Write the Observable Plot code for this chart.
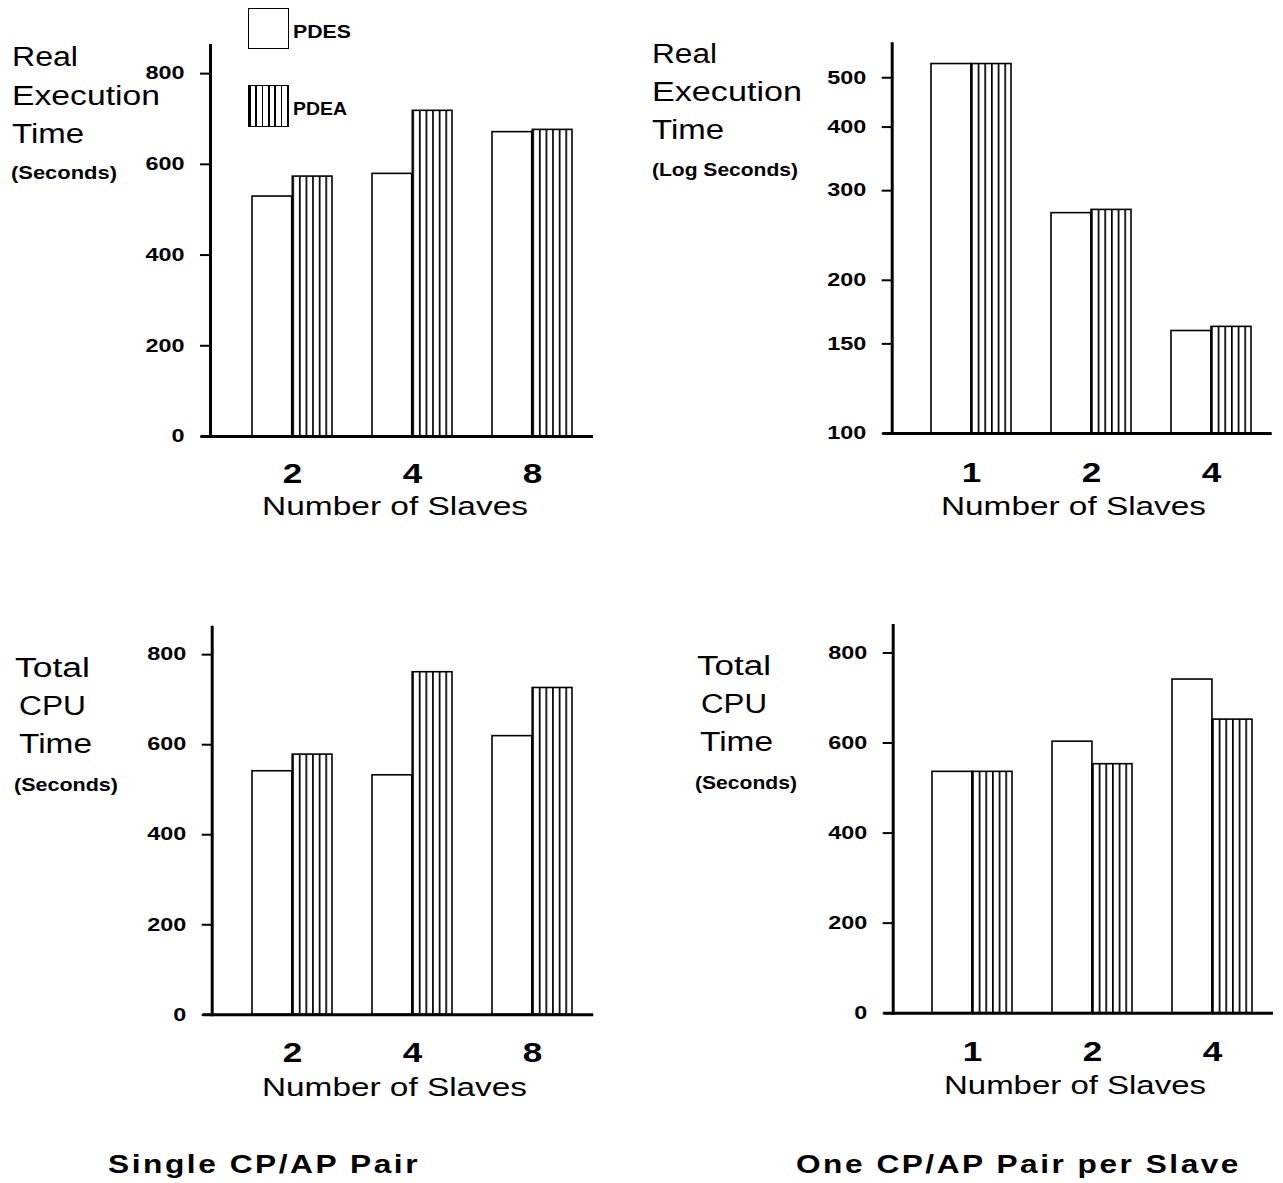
<!DOCTYPE html>
<html><head><meta charset="utf-8">
<script src="https://cdn.jsdelivr.net/npm/d3@7"></script>
<script src="https://cdn.jsdelivr.net/npm/@observablehq/plot@0.6"></script>
<style>
body{margin:0;background:#fff;}
#root{position:relative;width:1283px;height:1183px;overflow:hidden;background:#fff;font-family:"Liberation Sans",Arial,sans-serif;color:#000;}
.lbl{position:absolute;white-space:nowrap;line-height:1;transform-origin:0 0;}
.plot{position:absolute;}
.sw{position:absolute;box-sizing:border-box;border:1.6px solid #000;background:#fff;}
</style></head><body>
<svg width="0" height="0" style="position:absolute">
  <defs>
    <pattern id="vhatch" patternUnits="objectBoundingBox" x="0" y="0" width="0.166667" height="1">
      <rect x="0" y="0" width="100" height="3000" fill="#fff"/>
      <rect x="0" y="0" width="1.7" height="3000" fill="#000"/>
    </pattern>
  </defs>
</svg>
<div id="root"></div>
<script>
// ---- data ----
const series = ["PDES", "PDEA"];
const slavesSingle = ["2", "4", "8"];
const slavesPerSlave = ["1", "2", "4"];
const realSinglePDES = [529, 579, 671];
const realSinglePDEA = [573, 718, 676];
const realPerSlavePDES = [532, 271, 159];
const realPerSlavePDEA = [532, 275, 162];
const cpuSinglePDES = [541, 532, 619];
const cpuSinglePDEA = [578, 761, 726];
const cpuPerSlavePDES = [536, 603, 741];
const cpuPerSlavePDEA = [536, 553, 652];
const linearTicks = [0, 200, 400, 600, 800];
const logTicks = [100, 150, 200, 300, 400, 500];
const captions = ["Single CP/AP Pair", "One CP/AP Pair per Slave"];

const root = document.getElementById("root");

function label(text, x, capTop, fs, weight, w, opts = {}) {
  const d = document.createElement("div");
  d.className = "lbl";
  d.textContent = text;
  d.style.fontSize = fs + "px";
  d.style.fontWeight = weight;
  if (opts.ls) d.style.letterSpacing = opts.ls + "px";
  d.style.top = (capTop - 0.13 * fs) + "px";
  root.appendChild(d);
  const nat = d.getBoundingClientRect().width;
  const s = w / nat;
  const left = opts.center ? x - w / 2 : x;
  d.style.left = left + "px";
  d.style.transform = `scaleX(${s})`;
}

// widen svg text horizontally (glyphs stretched, anchor kept)
function stretch(sel, s) {
  sel.each(function () {
    const len = this.getComputedTextLength();
    if (len > 0) {
      this.setAttribute("lengthAdjust", "spacingAndGlyphs");
      this.setAttribute("textLength", len * s);
    }
  });
}

function panel(o) {
  const rows = o.slaves.flatMap((s, i) => [
    {slaves: s, series: series[0], value: o.pdes[i]},
    {slaves: s, series: series[1], value: o.pdea[i]}
  ]);
  const frameW = o.width - o.mL - o.mR;
  const pi = 1 / 3, po = 0.25;
  const step = frameW / (o.slaves.length - pi + 2 * po);
  const half = step * (1 - pi) / 2;
  const yMin = o.yDomain[0];
  const svg = Plot.plot({
    width: o.width, height: o.height,
    marginLeft: o.mL, marginRight: o.mR, marginTop: o.mT, marginBottom: o.mB,
    style: {fontFamily: "Liberation Sans, Arial, sans-serif", background: "transparent", overflow: "visible", color: "#000"},
    x: {type: "band", domain: o.slaves, paddingInner: pi, paddingOuter: po, align: 0.66, label: null},
    y: {type: o.yType, domain: o.yDomain, label: null},
    marks: [
      Plot.barY(rows.filter(d => d.series === series[0]), {x: "slaves", y1: () => yMin, y2: "value", fill: "#fff", stroke: "#000", strokeWidth: 1.6, insetRight: half}),
      Plot.barY(rows.filter(d => d.series === series[1]), {x: "slaves", y1: () => yMin, y2: "value", fill: "url(#vhatch)", stroke: "#000", strokeWidth: 1.6, insetLeft: half}),
      Plot.ruleY([yMin], {stroke: "#000", strokeWidth: 3, insetLeft: -9}),
      Plot.frame({anchor: "left", stroke: "#000", strokeWidth: 3}),
      Plot.axisY({ticks: o.ticks, tickFormat: d => String(d), tickSize: 10, tickPadding: 16, fontSize: 18, fontWeight: "bold", strokeWidth: 2, label: null}),
      Plot.axisX({tickSize: 0, tickPadding: o.xPad, fontSize: 27, fontWeight: "bold", label: null})
    ]
  });
  svg.classList.add("plot");
  svg.style.left = o.left + "px";
  svg.style.top = o.top + "px";
  root.appendChild(svg);
  stretch(d3.select(svg).selectAll('[aria-label="y-axis tick label"] text'), 1.3);
  stretch(d3.select(svg).selectAll('[aria-label="x-axis tick label"] text'), 1.3);
}

// top-left: Real execution time, single CP/AP pair
panel({left: 115, top: 20, width: 490, height: 475, mL: 95, mR: 12, mT: 25, mB: 59,
  slaves: slavesSingle, pdes: realSinglePDES, pdea: realSinglePDEA,
  yType: "linear", yDomain: [0, 862], ticks: linearTicks, xPad: 27});
// top-right: Real execution time (log), one pair per slave
panel({left: 795, top: 20, width: 485, height: 475, mL: 96.7, mR: 8.3, mT: 23.3, mB: 62,
  slaves: slavesPerSlave, pdes: realPerSlavePDES, pdea: realPerSlavePDEA,
  yType: "log", yDomain: [100, 583], ticks: logTicks, xPad: 29});
// bottom-left: Total CPU time, single pair
panel({left: 115, top: 600, width: 490, height: 475, mL: 96.7, mR: 11.7, mT: 26.7, mB: 60.7,
  slaves: slavesSingle, pdes: cpuSinglePDES, pdea: cpuSinglePDEA,
  yType: "linear", yDomain: [0, 861], ticks: linearTicks, xPad: 28});
// bottom-right: Total CPU time, one pair per slave
panel({left: 795, top: 600, width: 485, height: 475, mL: 97.7, mR: 7, mT: 25, mB: 62.3,
  slaves: slavesPerSlave, pdes: cpuPerSlavePDES, pdea: cpuPerSlavePDEA,
  yType: "linear", yDomain: [0, 861], ticks: linearTicks, xPad: 28.5});

// y-axis titles
label("Real", 12, 48, 27, 400, 66);
label("Execution", 12, 87, 27, 400, 148);
label("Time", 12, 125, 27, 400, 72);
label("(Seconds)", 11, 165, 19, 700, 106);

label("Real", 652, 45, 27, 400, 65);
label("Execution", 652, 83, 27, 400, 150);
label("Time", 652, 121, 27, 400, 72);
label("(Log Seconds)", 652, 162, 19, 700, 146);

label("Total", 15, 659, 27, 400, 75);
label("CPU", 19, 697, 27, 400, 67);
label("Time", 19, 735, 27, 400, 73);
label("(Seconds)", 14, 777, 19, 700, 104);

label("Total", 697, 657, 27, 400, 74);
label("CPU", 701, 695, 27, 400, 66);
label("Time", 700, 733, 27, 400, 73);
label("(Seconds)", 695, 775, 19, 700, 102);

// x-axis titles
label("Number of Slaves", 395, 496, 26, 400, 266, {center: true});
label("Number of Slaves", 1073, 496, 26, 400, 265, {center: true});
label("Number of Slaves", 394.5, 1077, 26, 400, 265, {center: true});
label("Number of Slaves", 1075, 1075, 26, 400, 262, {center: true});

// captions
label(captions[0], 108, 1155, 25, 700, 312, {ls: 2});
label(captions[1], 796, 1155, 25, 700, 445, {ls: 2});

// legend
function swatch(x, y, w, h, hatched) {
  const d = document.createElement("div");
  d.className = "sw";
  d.style.left = x + "px"; d.style.top = y + "px";
  d.style.width = w + "px"; d.style.height = h + "px";
  if (hatched) d.style.backgroundImage = "repeating-linear-gradient(90deg, #000 0px, #000 1.6px, #fff 1.6px, #fff 6.3px)";
  root.appendChild(d);
}
swatch(248, 8, 41, 41, false);
swatch(248, 85, 41, 42, true);
label(series[0], 293, 25, 18, 700, 58);
label(series[1], 293, 102, 18, 700, 54);
</script>
</body></html>
